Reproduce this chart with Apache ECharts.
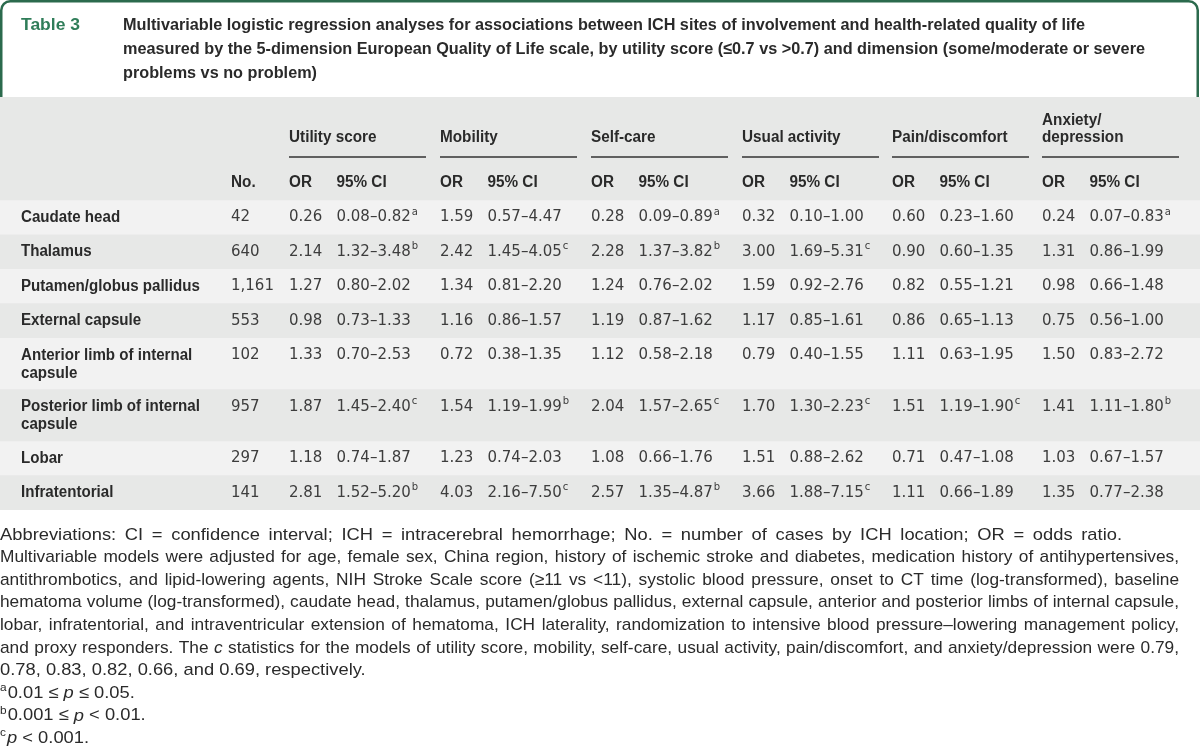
<!DOCTYPE html>
<html><head><meta charset="utf-8">
<script src="https://cdn.jsdelivr.net/npm/echarts@6/dist/echarts.min.js"></script>
<style>html,body{margin:0;padding:0;background:#fff}#c{width:1200px;height:753px}</style>
</head><body><div id="c"></div>
<script>
// ---------------- DATA ----------------
const tableNo = 'Table 3';
const titleLines = [
  'Multivariable logistic regression analyses for associations between ICH sites of involvement and health-related quality of life',
  'measured by the 5-dimension European Quality of Life scale, by utility score (\u22640.7 vs >0.7) and dimension (some/moderate or severe',
  'problems vs no problem)'
];
const sites = ['Caudate head','Thalamus','Putamen/globus pallidus','External capsule',
  'Anterior limb of internal\ncapsule','Posterior limb of internal\ncapsule','Lobar','Infratentorial'];
const caseCounts = ['42','640','1,161','553','102','957','297','141'];
const outcomes = ['Utility score','Mobility','Self-care','Usual activity','Pain/discomfort','Anxiety/\ndepression'];
const subHeads = ['OR','95% CI'];
const countHead = 'No.';

const orUtility = [0.26,2.14,1.27,0.98,1.33,1.87,1.18,2.81];
const ciUtility = ['0.08\u20130.82','1.32\u20133.48','0.80\u20132.02','0.73\u20131.33','0.70\u20132.53','1.45\u20132.40','0.74\u20131.87','1.52\u20135.20'];
const sigUtility = ['a','b','','','','c','','b'];

const orMobility = [1.59,2.42,1.34,1.16,0.72,1.54,1.23,4.03];
const ciMobility = ['0.57\u20134.47','1.45\u20134.05','0.81\u20132.20','0.86\u20131.57','0.38\u20131.35','1.19\u20131.99','0.74\u20132.03','2.16\u20137.50'];
const sigMobility = ['','c','','','','b','','c'];

const orSelfCare = [0.28,2.28,1.24,1.19,1.12,2.04,1.08,2.57];
const ciSelfCare = ['0.09\u20130.89','1.37\u20133.82','0.76\u20132.02','0.87\u20131.62','0.58\u20132.18','1.57\u20132.65','0.66\u20131.76','1.35\u20134.87'];
const sigSelfCare = ['a','b','','','','c','','b'];

const orUsual = [0.32,3.00,1.59,1.17,0.79,1.70,1.51,3.66];
const ciUsual = ['0.10\u20131.00','1.69\u20135.31','0.92\u20132.76','0.85\u20131.61','0.40\u20131.55','1.30\u20132.23','0.88\u20132.62','1.88\u20137.15'];
const sigUsual = ['','c','','','','c','','c'];

const orPain = [0.60,0.90,0.82,0.86,1.11,1.51,0.71,1.11];
const ciPain = ['0.23\u20131.60','0.60\u20131.35','0.55\u20131.21','0.65\u20131.13','0.63\u20131.95','1.19\u20131.90','0.47\u20131.08','0.66\u20131.89'];
const sigPain = ['','','','','','c','',''];

const orAnxiety = [0.24,1.31,0.98,0.75,1.50,1.41,1.03,1.35];
const ciAnxiety = ['0.07\u20130.83','0.86\u20131.99','0.66\u20131.48','0.56\u20131.00','0.83\u20132.72','1.11\u20131.80','0.67\u20131.57','0.77\u20132.38'];
const sigAnxiety = ['a','','','','','b','',''];

const footLines = [
  'Abbreviations: CI = confidence interval; ICH = intracerebral hemorrhage; No. = number of cases by ICH location; OR = odds ratio.',
  'Multivariable models were adjusted for age, female sex, China region, history of ischemic stroke and diabetes, medication history of antihypertensives,',
  'antithrombotics, and lipid-lowering agents, NIH Stroke Scale score (\u226511 vs <11), systolic blood pressure, onset to CT time (log-transformed), baseline',
  'hematoma volume (log-transformed), caudate head, thalamus, putamen/globus pallidus, external capsule, anterior and posterior limbs of internal capsule,',
  'lobar, infratentorial, and intraventricular extension of hematoma, ICH laterality, randomization to intensive blood pressure\u2013lowering management policy,',
  'and proxy responders. The _c_ statistics for the models of utility score, mobility, self-care, usual activity, pain/discomfort, and anxiety/depression were 0.79,',
  '0.78, 0.83, 0.82, 0.66, and 0.69, respectively.',
  '^a0.01 \u2264 _p_ \u2264 0.05.',
  '^b0.001 \u2264 _p_ < 0.01.',
  '^c_p_ < 0.001.'
];

// ---------------- LAYOUT / STYLE ----------------
// right edge each footer line is set to (null = ragged)
const footJustifyTo = [1122, 1179, 1179, 1179, 1179, 1179, null, null, null, null];

const orCols = [orUtility,orMobility,orSelfCare,orUsual,orPain,orAnxiety];
const ciCols = [ciUtility,ciMobility,ciSelfCare,ciUsual,ciPain,ciAnxiety];
const sigCols = [sigUtility,sigMobility,sigSelfCare,sigUsual,sigPain,sigAnxiety];

const labelX = 21, countX = 231;
const groupX = [289,440,591,742,892,1042];
const ciOff = 47.5, ruleW = 137;
const Y_GROUP = -1.82, Y_RULE = -1.26, Y_SUB = -0.52;

const C_GRAY = '#e7e8e7', C_LIGHT = '#f2f2f2', C_GREEN = '#2b6a4d', C_TAB = '#2f7d59';
const C_TEXT = '#2a2a2a', C_NUM = '#3d3d3d';

const mctx = document.createElement('canvas').getContext('2d');
function tw(t,f){ mctx.font = f; return mctx.measureText(t).width; }

const FF = '"Liberation Sans", Arial, sans-serif';
const FONT_BOLD = 'bold 16px ' + FF;
const FONT_NUM = '15px "DejaVu Sans", sans-serif';
const FONT_SUP = '10px "DejaVu Sans", sans-serif';
const labelScale = (100+178)/(tw('Caudate head',FONT_BOLD)+tw('Putamen/globus pallidus',FONT_BOLD));
const headScale = (88+115)/(tw('Utility score',FONT_BOLD)+tw('Pain/discomfort',FONT_BOLD));

// rows in units (double-line rows take 1.5 units)
const rowSpan = sites.map(s => s.indexOf('\n') >= 0 ? 1.5 : 1);
const rowStart = [];
rowSpan.reduce((acc, v, i) => { rowStart[i] = acc; return acc + v; }, 0);
const totalUnits = rowSpan.reduce((a,b)=>a+b,0);

// cells
const cells = [];
sites.forEach((s, r) => {
  const y = rowStart[r] + 0.5;
  cells.push({x: labelX, y, text: s, font: FONT_BOLD, scale: labelScale, color: C_TEXT});
  cells.push({x: countX, y, text: caseCounts[r], font: FONT_NUM, color: C_NUM});
  groupX.forEach((gx, g) => {
    cells.push({x: gx, y, text: orCols[g][r].toFixed(2), font: FONT_NUM, color: C_NUM});
    cells.push({x: gx + ciOff, y, text: ciCols[g][r], sup: sigCols[g][r], font: FONT_NUM, color: C_NUM});
  });
});
// header cells
outcomes.forEach((o, g) => {
  cells.push({x: groupX[g], y: Y_GROUP, text: o, font: FONT_BOLD, scale: headScale, color: C_TEXT, bottom: true, lh: 17});
  cells.push({x: groupX[g], y: Y_SUB, text: subHeads[0], font: FONT_BOLD, scale: headScale, color: C_TEXT});
  cells.push({x: groupX[g] + ciOff, y: Y_SUB, text: subHeads[1], font: FONT_BOLD, scale: headScale, color: C_TEXT});
});
cells.push({x: countX, y: Y_SUB, text: countHead, font: FONT_BOLD, scale: headScale, color: C_TEXT});

function renderCell(params, api) {
  const c = cells[params.dataIndex];
  const p = api.coord([api.value(0), api.value(1)]);
  const lines = c.text.split('\n');
  const lh = c.lh || 18;
  const sc = c.scale || 1;
  const y0 = c.bottom ? p[1] - (lines.length - 1) * lh : p[1];
  const children = lines.map((ln, i) => ({
    type: 'text', x: p[0], y: y0 + i * lh, scaleX: sc,
    style: {text: ln, font: c.font, fill: c.color, align: 'left', verticalAlign: 'middle', textAlign: 'left', textVerticalAlign: 'middle'}
  }));
  if (c.sup) {
    const w = tw(lines[0], c.font) * sc;
    children.push({type: 'text', x: p[0] + w + 1, y: y0 - 5,
      style: {text: c.sup, font: FONT_SUP, fill: c.color, align: 'left', verticalAlign: 'middle', textAlign: 'left', textVerticalAlign: 'middle'}});
  }
  return {type: 'group', children};
}

function renderBand(params, api) {
  const a = api.coord([0, api.value(0)]);
  const b = api.coord([1200, api.value(1)]);
  return {type: 'rect', shape: {x: a[0], y: a[1], width: b[0] - a[0], height: b[1] - a[1]},
    style: {fill: params.dataIndex % 2 === 0 ? C_LIGHT : C_GRAY}};
}

function renderRule(params, api) {
  const a = api.coord([api.value(0), api.value(1)]);
  const b = api.coord([api.value(2), api.value(1)]);
  return {type: 'line', shape: {x1: a[0], y1: a[1], x2: b[0], y2: b[1]},
    style: {stroke: '#333', lineWidth: 1.5}};
}

// ---------------- title & footer graphics ----------------
const graphics = [];
graphics.push({type: 'rect', z: 1, shape: {x: 1.25, y: 1.25, width: 1196.5, height: 140, r: [9, 9, 0, 0]},
  style: {fill: '#fff', stroke: C_GREEN, lineWidth: 2.5}});
graphics.push({type: 'rect', z: 2, shape: {x: 0, y: 97, width: 1200, height: 413}, style: {fill: C_GRAY}});

const FONT_TITLE = 'bold 17px ' + FF;
const tabScale = 59 / tw(tableNo, FONT_TITLE);
graphics.push({type: 'text', z: 5, x: 21, y: 25, scaleX: tabScale,
  style: {text: tableNo, font: FONT_TITLE, fill: C_TAB, align: 'left', verticalAlign: 'middle', textAlign: 'left', textVerticalAlign: 'middle'}});
const titleScale = Math.min(1014 / tw(titleLines[0], FONT_TITLE), 1022 / tw(titleLines[1], FONT_TITLE));
const titleY = [25, 49, 73];
titleLines.forEach((t, i) => {
  graphics.push({type: 'text', z: 5, x: 123, y: titleY[i], scaleX: titleScale,
    style: {text: t, font: FONT_TITLE, fill: C_TEXT, align: 'left', verticalAlign: 'middle', textAlign: 'left', textVerticalAlign: 'middle'}});
});

const FOOT_SIZE = 17;
const FONT_FOOT = FOOT_SIZE + 'px ' + FF;
const FONT_FOOT_I = 'italic ' + FOOT_SIZE + 'px ' + FF;
const FONT_FOOT_SUP = '11px ' + FF;
function parseWord(w) {
  let sup = '';
  if (w[0] === '^') { sup = w[1]; w = w.slice(2); }
  const segs = [];
  const parts = w.split('_');
  parts.forEach((p, i) => { if (p) segs.push({t: p, italic: i % 2 === 1}); });
  return {sup, segs};
}
function wordWidthRaw(pw) {
  let s = 0;
  if (pw.sup) s += tw(pw.sup, FONT_FOOT_SUP) + 1;
  pw.segs.forEach(sg => { s += tw(sg.t, sg.italic ? FONT_FOOT_I : FONT_FOOT); });
  return s;
}
const spaceRaw = tw(' ', FONT_FOOT);
function natWidth(line) {
  const ws = line.split(' ').map(parseWord);
  return ws.map(wordWidthRaw).reduce((a, b) => a + b, 0) + (ws.length - 1) * spaceRaw;
}
let maxNat = 0;
footLines.forEach((line, li) => { if (footJustifyTo[li] === 1179) maxNat = Math.max(maxNat, natWidth(line)); });
const justScale = (1179 - 4) / maxNat;
const freeScale = justScale * 1.06;

footLines.forEach((line, li) => {
  const target = footJustifyTo[li];
  const sc = (target === 1179) ? justScale : freeScale;
  const y = 535 + li * 22.6;
  const words = line.split(' ').map(parseWord);
  const widths = words.map(w => wordWidthRaw(w) * sc);
  const sum = widths.reduce((a, b) => a + b, 0);
  const space = spaceRaw * sc;
  const gap = (target && words.length > 1) ? Math.max(space * 0.6, (target - sum) / (words.length - 1)) : space;
  let x = 0;
  words.forEach((pw, wi) => {
    let cx = x;
    if (pw.sup) {
      graphics.push({type: 'text', z: 5, x: cx, y: y - 5, scaleX: sc,
        style: {text: pw.sup, font: FONT_FOOT_SUP, fill: C_TEXT, align: 'left', verticalAlign: 'middle', textAlign: 'left', textVerticalAlign: 'middle'}});
      cx += (tw(pw.sup, FONT_FOOT_SUP) + 1) * sc;
    }
    pw.segs.forEach(sg => {
      const f = sg.italic ? FONT_FOOT_I : FONT_FOOT;
      graphics.push({type: 'text', z: 5, x: cx, y, scaleX: sc,
        style: {text: sg.t, font: f, fill: C_TEXT, align: 'left', verticalAlign: 'middle', textAlign: 'left', textVerticalAlign: 'middle'}});
      cx += tw(sg.t, f) * sc;
    });
    x += widths[wi] + gap;
  });
});

// ---------------- chart ----------------
const chart = echarts.init(document.getElementById('c'));
chart.setOption({
  animation: false,
  grid: {left: 0, right: 0, top: 97, bottom: 753 - 510, show: false},
  xAxis: {type: 'value', min: 0, max: 1200, show: false},
  yAxis: {type: 'value', min: -3, max: totalUnits, inverse: true, show: false},
  graphic: {elements: graphics},
  series: [
    {type: 'custom', z: 3, clip: false, renderItem: renderBand,
      data: rowStart.map((s, i) => [s, s + rowSpan[i]])},
    {type: 'custom', z: 4, clip: false, renderItem: renderRule,
      data: groupX.map(gx => [gx, Y_RULE, gx + ruleW])},
    {type: 'custom', z: 5, clip: false, renderItem: renderCell,
      data: cells.map(c => [c.x, c.y])}
  ]
});
</script>
</body></html>
